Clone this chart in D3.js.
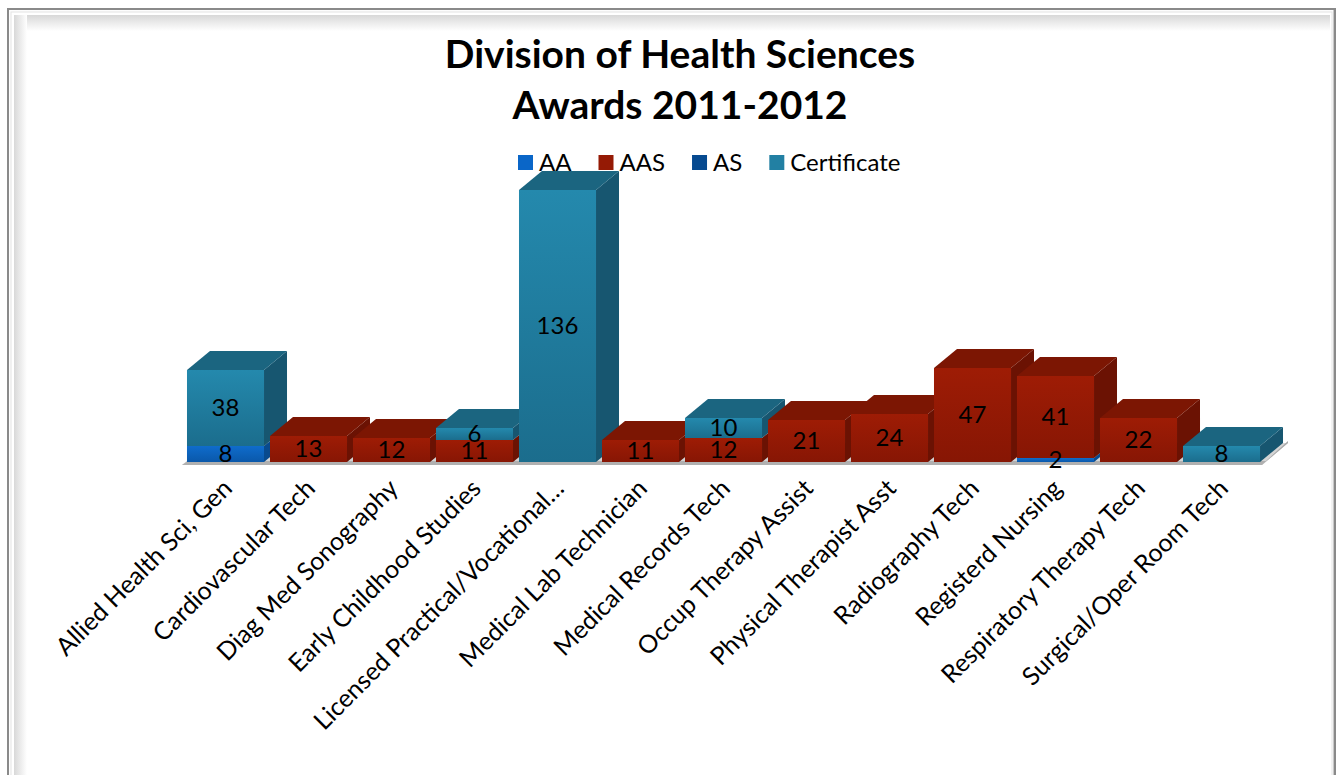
<!DOCTYPE html>
<html><head><meta charset="utf-8">
<script src="https://cdn.jsdelivr.net/npm/d3@7"></script>
<style>body{margin:0;background:#fff;overflow:hidden}svg{display:block}</style>
</head><body>
<svg id="c" width="1339" height="775"></svg>
<script>
const categories = ["Allied Health Sci, Gen","Cardiovascular Tech","Diag Med Sonography","Early Childhood Studies","Licensed Practical/Vocational…","Medical Lab Technician","Medical Records Tech","Occup Therapy Assist","Physical Therapist Asst","Radiography Tech","Registerd Nursing","Respiratory Therapy Tech","Surgical/Oper Room Tech"];
const seriesNames = ["AA","AAS","AS","Certificate"];
const AA          = [8,0,0,0,0,0,0,0,0,0,2,0,0];
const AAS         = [0,13,12,11,0,11,12,21,24,47,41,22,0];
const AS          = [0,0,0,0,0,0,0,0,0,0,0,0,0];
const Certificate = [38,0,0,6,136,0,10,0,0,0,0,0,8];
const titleLines = ["Division of Health Sciences","Awards 2011-2012"];

const FONT = "Lato, 'Open Sans', sans-serif";
const svg = d3.select("#c");
const defs = svg.append("defs");

const palette = {
  AA:{front:["#0f6ccc","#0a58aa"], side:"#084a8e", top:"#0a5aa8", legend:"#0a66c8"},
  AAS:{front:["#9e1c05","#871604"], side:"#6b1203", top:"#7c1603", legend:"#951a05"},
  AS:{front:["#0a4f96","#073e78"], side:"#053463", top:"#063f7a", legend:"#064a90"},
  Certificate:{front:["#2489ad","#1b6d8d"], side:"#175670", top:"#1b6580", legend:"#2280a3"}
};
seriesNames.forEach(s=>{
  const g = defs.append("linearGradient").attr("id","g"+s).attr("x1",0).attr("y1",0).attr("x2",0).attr("y2",1);
  g.append("stop").attr("offset","0%").attr("stop-color",palette[s].front[0]);
  g.append("stop").attr("offset","100%").attr("stop-color",palette[s].front[1]);
});
const gt = defs.append("linearGradient").attr("id","ft").attr("x1",0).attr("y1",0).attr("x2",0).attr("y2",1);
gt.append("stop").attr("offset","0%").attr("stop-color","#d8d8d8");
gt.append("stop").attr("offset","100%").attr("stop-color","#ffffff");
const gl = defs.append("linearGradient").attr("id","fl").attr("x1",0).attr("y1",0).attr("x2",1).attr("y2",0);
gl.append("stop").attr("offset","0%").attr("stop-color","#d8d8d8");
gl.append("stop").attr("offset","100%").attr("stop-color","#ffffff");

// Frame
svg.append("rect").attr("x",7).attr("y",8).attr("width",1329).attr("height",800).attr("fill","#8a8a8a");
svg.append("rect").attr("x",9).attr("y",10).attr("width",1325).attr("height",800).attr("fill","#fdfdfd");
svg.append("rect").attr("x",11).attr("y",12).attr("width",1321).attr("height",800).attr("fill","#ffffff").attr("stroke","#e4e4e4").attr("stroke-width",1);
svg.append("rect").attr("x",14).attr("y",15).attr("width",1316).attr("height",16).attr("fill","url(#ft)");
svg.append("rect").attr("x",14).attr("y",15).attr("width",13).attr("height",800).attr("fill","url(#fl)");
svg.append("rect").attr("x",1333).attr("y",10).attr("width",1).attr("height",800).attr("fill","#c8c8c8");

// Title
svg.append("g").selectAll("text").data(titleLines).join("text")
  .attr("x",680).attr("y",(d,i)=>68+i*51)
  .attr("text-anchor","middle").attr("font-family",FONT).attr("font-weight","bold")
  .attr("font-size",39).attr("fill","#000").text(d=>d);

// scales
const x = d3.scaleBand().domain(categories).range([184,1263]).paddingInner(0.072).paddingOuter(0.036);
const y = d3.scaleLinear().domain([0,140]).range([462,182]);
const DX = 23, DY = 19;

// floor
const x0 = x.range()[0]-2, x1 = x.range()[1]-1, fy = y(0);
svg.append("polygon")
  .attr("points",[[x0,fy+3],[x1,fy+3],[x1+DX+3,fy-DY],[x0+DX+3,fy-DY]].map(p=>p.join(",")).join(" "))
  .attr("fill","#d4d4d4");
svg.append("polygon")
  .attr("points",[[x0,fy+3],[x1,fy+3],[x1+4,fy-1],[x0+6,fy-1]].map(p=>p.join(",")).join(" "))
  .attr("fill","#b0b0b0");
svg.append("polygon")
  .attr("points",[[x1,fy+3],[x1+DX+3,fy-DY],[x1+DX+3,fy-DY-2],[x1+4,fy-1]].map(p=>p.join(",")).join(" "))
  .attr("fill","#a8a8a8");

// stacked data
const rows = categories.map((c,i)=>({cat:c, AA:AA[i], AAS:AAS[i], AS:AS[i], Certificate:Certificate[i]}));
const stack = d3.stack().keys(seriesNames)(rows);

const bars = svg.append("g");
categories.forEach((c,i)=>{
  const g = bars.append("g");
  const xl = x(c), w = x.bandwidth();
  const segs = stack.map(s=>({key:s.key, y0:s[i][0], y1:s[i][1]})).filter(d=>d.y1>d.y0);
  const topIdx = segs.length-1;
  segs.forEach((d,k)=>{
    const yt = y(d.y1), yb = y(d.y0);
    const p = palette[d.key];
    g.append("polygon").attr("points",[[xl+w,yb],[xl+w+DX,yb-DY],[xl+w+DX,yt-DY],[xl+w,yt]].map(p=>p.join(",")).join(" ")).attr("fill",p.side);
    g.append("rect").attr("x",xl).attr("y",yt).attr("width",w).attr("height",yb-yt).attr("fill","url(#g"+d.key+")");
    if(k===topIdx){
      g.append("polygon").attr("points",[[xl,yt],[xl+DX,yt-DY],[xl+w+DX,yt-DY],[xl+w,yt]].map(p=>p.join(",")).join(" ")).attr("fill",p.top);
    }
  });
});

// value labels
const labels = svg.append("g");
categories.forEach((c,i)=>{
  stack.forEach(s=>{
    const v = s[i][1]-s[i][0];
    if(v>0){
      labels.append("text").attr("x",x(c)+x.bandwidth()/2).attr("y",y((s[i][0]+s[i][1])/2)+8)
        .attr("text-anchor","middle").attr("font-family",FONT).attr("font-size",24).attr("fill","#000").text(v);
    }
  });
});

// x axis labels
const axis = svg.append("g");
categories.forEach(c=>{
  const cx = x(c)+x.bandwidth()/2+8, cy = 490;
  axis.append("text").attr("transform",`translate(${cx},${cy}) rotate(-45)`)
    .attr("text-anchor","end").attr("font-family",FONT).attr("font-size",25).attr("fill","#000").text(c);
});

// legend
const leg = svg.append("g");
let lx = 518; const ly = 163;
seriesNames.forEach(s=>{
  leg.append("rect").attr("x",lx).attr("y",ly-8).attr("width",15).attr("height",15).attr("fill",palette[s].legend);
  const t = leg.append("text").attr("x",lx+21).attr("y",ly+8).attr("font-family",FONT).attr("font-size",24).attr("fill","#000").text(s);
  lx += 21 + t.node().getComputedTextLength() + 27;
});
</script>
</body></html>
